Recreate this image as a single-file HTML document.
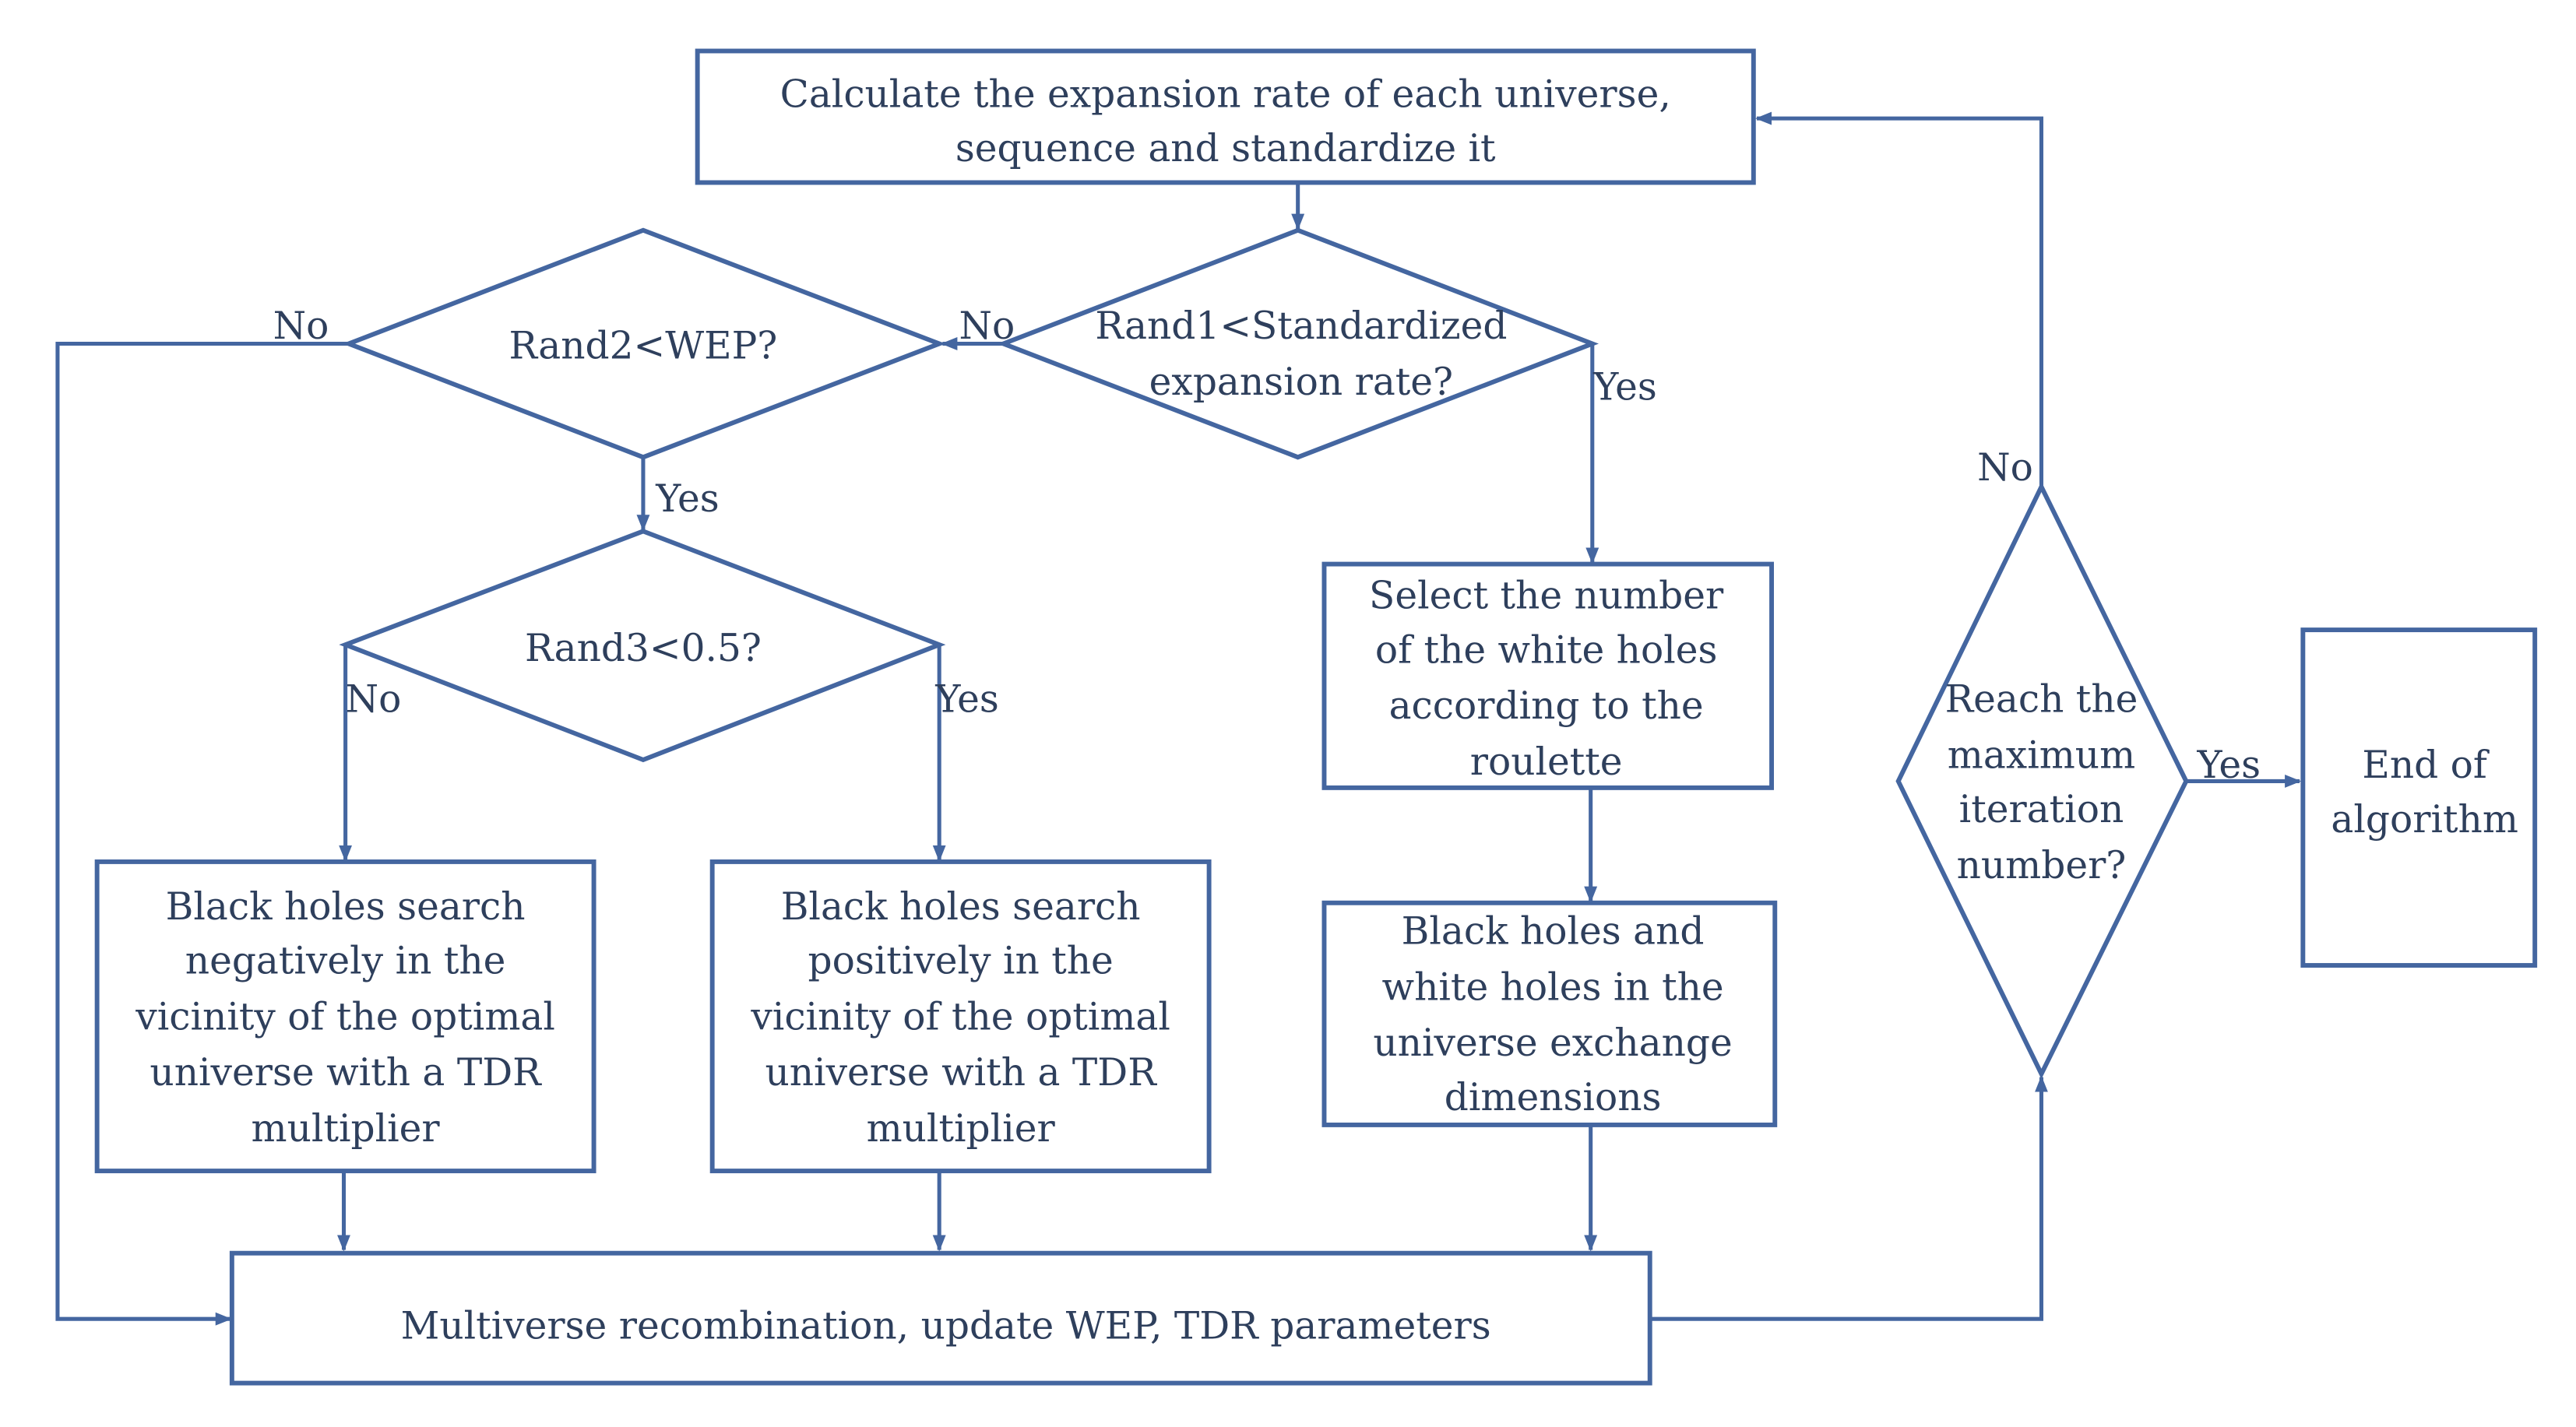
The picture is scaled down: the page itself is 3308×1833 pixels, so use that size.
<!DOCTYPE html>
<html><head><meta charset="utf-8"><style>html,body{margin:0;padding:0;background:#fff}svg{display:block}</style></head>
<body>
<svg width="3308" height="1833" viewBox="0 0 1566 867.7" preserveAspectRatio="none" xmlns="http://www.w3.org/2000/svg">
<defs><marker id="a" markerWidth="10" markerHeight="10" refX="9" refY="5" orient="auto" markerUnits="userSpaceOnUse"><path d="M0,1 L10,5 L0,9 Z" fill="#4466a0"/></marker></defs>
<g fill="none" stroke="#4466a0" stroke-width="2.8">
<rect x="424" y="31" width="642" height="80"/>
<polygon points="789,140 968,209 789,278 610,209"/>
<polygon points="391,140 571,209 391,278 212,209"/>
<polygon points="391,323 571,392 391,462 210,392"/>
<rect x="59" y="524" width="302" height="188"/>
<rect x="433" y="524" width="302" height="188"/>
<rect x="805" y="343" width="272" height="136"/>
<rect x="805" y="549" width="274" height="135"/>
<rect x="141" y="762" width="862" height="79"/>
<polygon points="1241,296 1329,475 1241,653 1154,475"/>
<rect x="1400" y="383" width="141" height="204"/>
</g>
<g fill="none" stroke="#4466a0" stroke-width="2.4" marker-end="url(#a)">
<path d="M789,111 V139"/>
<path d="M610,209 H573"/>
<path d="M212,209 H35 V802 H140"/>
<path d="M391,278 V322"/>
<path d="M210,392 V523"/>
<path d="M571,392 V523"/>
<path d="M968,209 V342"/>
<path d="M967,479 V548"/>
<path d="M209,712 V760"/>
<path d="M571,712 V760"/>
<path d="M967,684 V760"/>
<path d="M1003,802 H1241 V655"/>
<path d="M1241,296 V72 H1068"/>
<path d="M1329,475 H1398"/>
</g>
<g font-family="DejaVu Serif, Liberation Serif, serif" font-size="23" fill="#2e3f5c" text-anchor="middle">
<text x="745" y="65">Calculate the expansion rate of each universe,</text>
<text x="745" y="98">sequence and standardize it</text>
<text x="791" y="206">Rand1&lt;Standardized</text>
<text x="791" y="240">expansion rate?</text>
<text x="391" y="218">Rand2&lt;WEP?</text>
<text x="391" y="402">Rand3&lt;0.5?</text>
<text x="210" y="559">Black holes search</text>
<text x="210" y="592">negatively in the</text>
<text x="210" y="626">vicinity of the optimal</text>
<text x="210" y="660">universe with a TDR</text>
<text x="210" y="694">multiplier</text>
<text x="584" y="559">Black holes search</text>
<text x="584" y="592">positively in the</text>
<text x="584" y="626">vicinity of the optimal</text>
<text x="584" y="660">universe with a TDR</text>
<text x="584" y="694">multiplier</text>
<text x="940" y="370">Select the number</text>
<text x="940" y="403">of the white holes</text>
<text x="940" y="437">according to the</text>
<text x="940" y="471">roulette</text>
<text x="944" y="574">Black holes and</text>
<text x="944" y="608">white holes in the</text>
<text x="944" y="642">universe exchange</text>
<text x="944" y="675">dimensions</text>
<text x="575" y="814">Multiverse recombination, update WEP, TDR parameters</text>
<text x="1241" y="433">Reach the</text>
<text x="1241" y="467">maximum</text>
<text x="1241" y="500">iteration</text>
<text x="1241" y="534">number?</text>
<text x="1474" y="473">End of</text>
<text x="1474" y="506">algorithm</text>
<text x="183" y="206">No</text>
<text x="600" y="206">No</text>
<text x="988" y="243">Yes</text>
<text x="418" y="311">Yes</text>
<text x="227" y="433">No</text>
<text x="588" y="433">Yes</text>
<text x="1219" y="292">No</text>
<text x="1355" y="473">Yes</text>
</g>
</svg>
</body></html>
